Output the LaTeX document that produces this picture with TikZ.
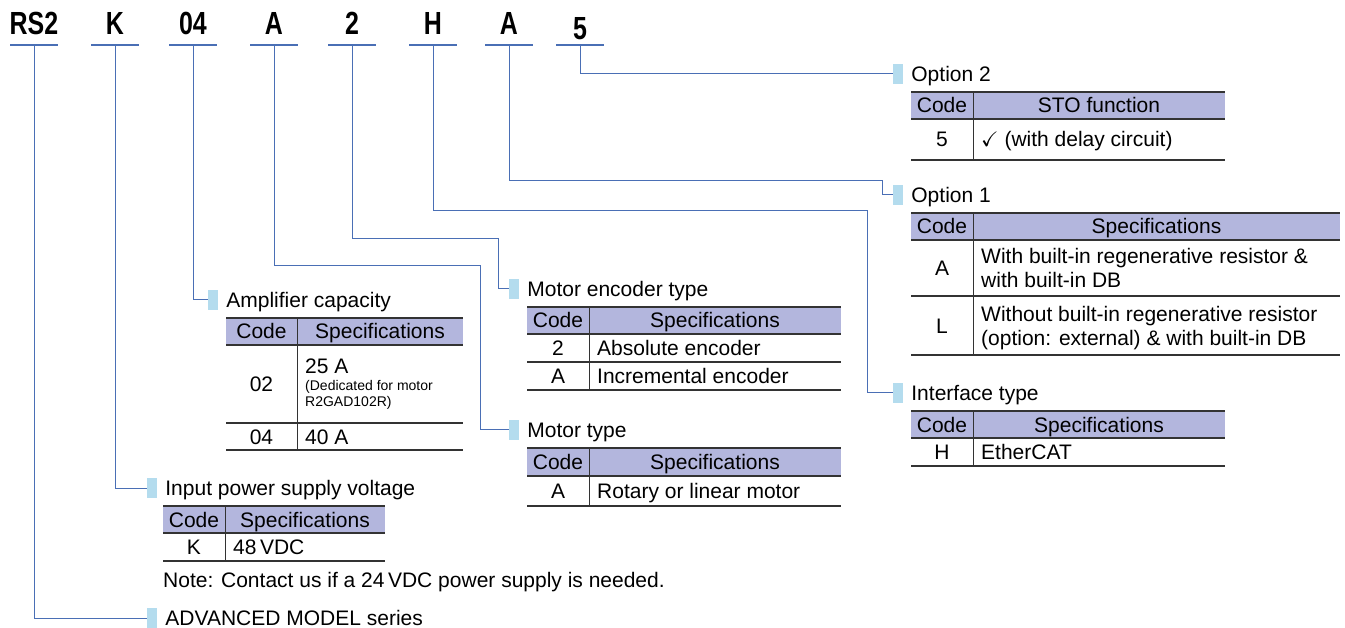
\documentclass[tikz,border=0pt]{standalone}
\usepackage{fontspec}
\usepackage{amssymb}
\setmainfont{Liberation Sans}
\newfontfamily\codefont[FakeStretch=0.78]{Liberation Sans}
\usetikzlibrary{positioning}

\definecolor{linkblue}{HTML}{4A6FB5}
\definecolor{markblue}{HTML}{B4DCEE}
\definecolor{headfill}{HTML}{B3B6DD}
\definecolor{rulegray}{HTML}{333333}

% table header: name, left, divider, right, top, bottom, spec title
\newcommand\spechead[7]{%
  \fill[headfill] (#2,#5) rectangle (#4,#6);
  \draw[toprule] (#2,#5) -- (#4,#5);
  \draw[rowrule] (#2,#6) -- (#4,#6);
  \node[cell] (#1hc) at ({(#2+#3)/2},{(#5+#6)/2}) {Code};
  \node[cell] (#1hs) at ({(#3+#4)/2},{(#5+#6)/2}) {#7};
}
% table row: name, left, divider, right, top, bottom, code, spec
\newcommand\specrow[8]{%
  \node[cell] (#1c) at ({(#2+#3)/2},{(#5+#6)/2}) {#7};
  \node[cell, anchor=west] (#1s) at (#3+8,{(#5+#6)/2}) {#8};
  \draw[rowrule] (#2,#6) -- (#4,#6);
}

\begin{document}
\begin{tikzpicture}[x=1pt, y=-1pt,
  link/.style={draw=linkblue, line width=1pt},
  underline/.style={draw=linkblue, line width=2.2pt},
  codetxt/.style={anchor=base, inner sep=0pt, font=\codefont\bfseries\fontsize{32}{32}\selectfont},
  marker/.style={fill=markblue, minimum width=10pt, minimum height=20pt, inner sep=0pt},
  title/.style={inner sep=0pt, text height=15pt, text depth=0pt, font=\fontsize{21}{24}\selectfont},
  cell/.style={inner sep=0pt, text height=15pt, text depth=0pt, font=\fontsize{21}{24}\selectfont},
  twoline/.style={inner sep=0pt, align=left, anchor=north west, font=\fontsize{21}{24}\selectfont},
  small/.style={inner sep=0pt, align=left, font=\fontsize{14}{16}\selectfont},
  toprule/.style={draw=rulegray, line width=1.6pt},
  rowrule/.style={draw=rulegray, line width=1.2pt},
  divider/.style={draw=rulegray, line width=1pt}]
  \useasboundingbox (0,0) rectangle (1345,628);

  % model code and underlines
  \foreach \nm/\cx/\txt/\dy in {rs/34/RS2/0, volt/115/K/0, amp/193/04/0, mot/274/A/0,
                               enc/352/2/0, ifc/433/H/0, opt/509/A/0, sto/580/5/5} {
    \node[codetxt] (\nm) at (\cx,35+\dy) {\txt};
    \draw[underline] (\cx-24,45) -- (\cx+24,45);
    \coordinate (u\nm) at (\cx,45);
  }

  % markers and titles
  \node[marker] (msto) at (898,74) {};
  \node[title, anchor=west, right=8pt of msto] (tsto) {Option 2};
  \node[marker] (mopt) at (898,195) {};
  \node[title, anchor=west, right=8pt of mopt] (topt) {Option 1};
  \node[marker] (mifc) at (898,393) {};
  \node[title, anchor=west, right=8pt of mifc] (tifc) {Interface type};
  \node[marker] (menc) at (514,289) {};
  \node[title, anchor=west, right=8pt of menc] (tenc) {Motor encoder type};
  \node[marker] (mmot) at (514,430) {};
  \node[title, anchor=west, right=8pt of mmot] (tmot) {Motor type};
  \node[marker] (mamp) at (213,300) {};
  \node[title, anchor=west, right=8pt of mamp] (tamp) {Amplifier capacity};
  \node[marker] (mvolt) at (152,488) {};
  \node[title, anchor=west, right=8pt of mvolt] (tvolt) {Input power supply voltage};
  \node[marker] (mrs) at (152,618) {};
  \node[title, anchor=west, right=8pt of mrs] (trs) {ADVANCED MODEL series};

  % connectors
  \draw[link] (usto) |- (msto.west);
  \draw[link] (uopt) |- (882,181) |- (mopt.west);
  \draw[link] (uifc) |- (867,211) |- (mifc.west);
  \draw[link] (uenc) |- (498,239) |- (menc.west);
  \draw[link] (umot) |- (480,266) |- (mmot.west);
  \draw[link] (uamp) |- (mamp.west);
  \draw[link] (uvolt) |- (mvolt.west);
  \draw[link] (urs) |- (mrs.west);

  % Option 2
  \spechead{sto}{911}{973}{1225}{92}{119}{STO function}
  \specrow{sto5}{911}{973}{1225}{119}{160}{5}{$\checkmark$ (with delay circuit)}
  \draw[divider] (973,92) -- (973,160);

  % Option 1
  \spechead{opt}{911}{973}{1340}{213}{240}{Specifications}
  \node[cell] (optAc) at (942,268) {A};
  \node[twoline] (optAs) at (981,248) {With built-in regenerative resistor \&\\with built-in DB};
  \draw[rowrule] (911,296) -- (1340,296);
  \node[cell] (optLc) at (942,326) {L};
  \node[twoline] (optLs) at (981,306) {Without built-in regenerative resistor\\(option: external) \& with built-in DB};
  \draw[rowrule] (911,355) -- (1340,355);
  \draw[divider] (973,213) -- (973,355);

  % Interface type
  \spechead{ifc}{911}{973}{1225}{411}{438}{Specifications}
  \specrow{ifcH}{911}{973}{1225}{438}{466}{H}{EtherCAT}
  \draw[divider] (973,411) -- (973,466);

  % Motor encoder type
  \spechead{enc}{527}{589}{841}{307}{334}{Specifications}
  \specrow{enc2}{527}{589}{841}{334}{362}{2}{Absolute encoder}
  \specrow{encA}{527}{589}{841}{362}{390}{A}{Incremental encoder}
  \draw[divider] (589,307) -- (589,390);

  % Motor type
  \spechead{mot}{527}{589}{841}{448}{476}{Specifications}
  \specrow{motA}{527}{589}{841}{476}{506}{A}{Rotary or linear motor}
  \draw[divider] (589,448) -- (589,506);

  % Amplifier capacity
  \spechead{amp}{226}{297}{463}{318}{345}{Specifications}
  \node[cell] (amp02c) at (261.5,384) {02};
  \node[cell, anchor=west] (amp02s) at (305,366) {25 A};
  \node[small, anchor=north west] (amp02n) at (305,380) {(Dedicated for motor\\R2GAD102R)};
  \draw[rowrule] (226,423) -- (463,423);
  \specrow{amp04}{226}{297}{463}{423}{450}{04}{40 A}
  \draw[divider] (297,318) -- (297,450);

  % Input power supply voltage
  \spechead{volt}{163}{225}{385}{506}{533}{Specifications}
  \specrow{voltK}{163}{225}{385}{533}{561}{K}{48\,VDC}
  \draw[divider] (225,506) -- (225,561);
  \node[title, anchor=west] (note) at (163,580) {Note: Contact us if a 24\,VDC power supply is needed.};
\end{tikzpicture}
\end{document}
